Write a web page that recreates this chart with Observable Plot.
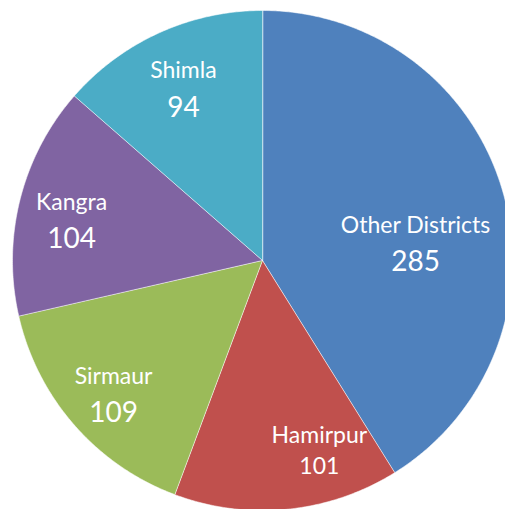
<!DOCTYPE html>
<html><head><meta charset="utf-8">
<script src="https://cdn.jsdelivr.net/npm/d3@7"></script>
<script src="https://cdn.jsdelivr.net/npm/@observablehq/plot@0.6"></script>
<style>body{margin:0;background:#fff;overflow:hidden;} #chart svg{display:block;}</style>
</head><body><div id="chart"></div>
<script>
// ---- data ----
const districts = ["Other Districts", "Hamirpur", "Sirmaur", "Kangra", "Shimla"];
const counts = [285, 101, 109, 104, 94];
const colors = ["#4F81BD", "#C0504D", "#9BBB59", "#8064A2", "#4BACC6"];

// ---- layout ----
const W = 505, H = 509;
const cx = 262, cy = 260, R = 250;
const font = "Lato, 'Open Sans', sans-serif";
const nameSize = 23, valueSize = 28;
// label anchors: [angle deg clockwise from 12 o'clock, radius fraction]
const labelPolar = [[77.1, 0.628], [162.0, 0.736], [232.1, 0.755], [286.9, 0.798], [337.4, 0.823]];

const arcs = d3.pie().sort(null).value(d => d)(counts);
const rows = [];
arcs.forEach((p, i) => {
  const n = Math.max(2, Math.ceil((p.endAngle - p.startAngle) / (Math.PI / 360)));
  rows.push({name: districts[i], x: 0, y: 0});
  for (let k = 0; k <= n; k++) {
    const a = p.startAngle + (p.endAngle - p.startAngle) * k / n;
    rows.push({name: districts[i], x: Math.sin(a), y: Math.cos(a)});
  }
});

const labels = districts.map((name, i) => {
  const [deg, r] = labelPolar[i];
  const a = deg * Math.PI / 180;
  const x = r * Math.sin(a), y = r * Math.cos(a);
  const small = name === "Hamirpur";
  const gap = small ? 31 : 37;
  return {name, value: counts[i], x, y, vy: y - gap / R, vsize: small ? nameSize : valueSize};
});

const chart = Plot.plot({
  width: W, height: H,
  margin: 0,
  x: {domain: [-1, 1], range: [cx - R, cx + R], axis: null},
  y: {domain: [-1, 1], range: [cy + R, cy - R], axis: null},
  color: {domain: districts, range: colors},
  style: {background: "white", fontFamily: font, overflow: "hidden"},
  marks: [
    Plot.line(rows, {x: "x", y: "y", z: "name", fill: "name", stroke: "white", strokeWidth: 1, strokeOpacity: 0.55, curve: "linear-closed"}),
    Plot.text(labels, {x: "x", y: "y", text: "name", fill: "white", fontSize: nameSize, fontFamily: font, textAnchor: "middle"}),
    Plot.text(labels, {x: "x", y: "vy", text: d => String(d.value), fill: "white", fontSize: "vsize", fontFamily: font, textAnchor: "middle"})
  ]
});
document.getElementById("chart").appendChild(chart);
</script>
</body></html>
